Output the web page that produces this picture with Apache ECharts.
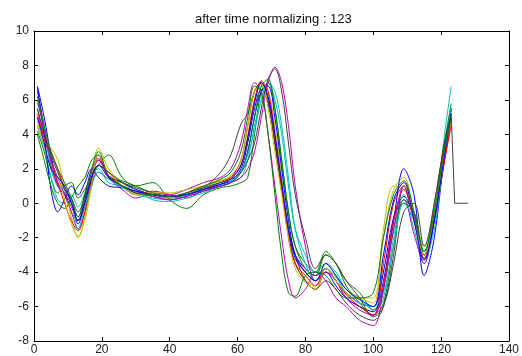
<!DOCTYPE html>
<html>
<head>
<meta charset="utf-8">
<script src="https://cdn.jsdelivr.net/npm/echarts@6/dist/echarts.min.js"></script>
<style>
  html, body { margin: 0; padding: 0; background: #fff; }
  #main { width: 522px; height: 356px; }
</style>
</head>
<body>
<div id="main"></div>
<script>
// sample positions (time index) shared by every curve
const xs = [1, 3, 5, 7, 9, 11, 13, 15, 17, 19,
  22, 26, 30, 35, 40, 45, 50, 55,
  58, 61, 63, 65, 67, 69, 71, 73, 75, 77,
  80, 83, 86, 89, 92, 96, 100, 103,
  106, 109, 112, 115, 118, 121, 123];

const s1 = [6.8, 5.0, 2.8, 1.2, 0.6, 0.2, -1.2, 0.2, 1.8, 2.5,
  1.6, 1.2, 0.8, 0.5, 0.3, 0.5, 0.8, 1.1,
  1.3, 2.0, 3.5, 5.5, 6.6, 5.8, 3.5, 0.8, -1.5, -3.0,
  -3.8, -4.2, -3.8, -4.5, -5.2, -5.8, -6.0, -4.0,
  -0.8, 0.4, -0.8, -3.0, -1.0, 2.5, 5.0];
const s2 = [4.2, 3.0, 1.5, 0.6, 1.0, 1.2, 0.3, 0.8, 1.5, 2.2,
  2.8, 1.5, 1.0, 1.2, 0.2, -0.3, 0.5, 0.9,
  1.0, 1.2, 1.5, 4.0, 6.5, 7.0, 5.5, 2.5, -0.5, -2.5,
  -3.5, -4.0, -2.8, -3.5, -4.5, -5.2, -6.2, -5.0,
  -1.5, 0.0, -0.5, -2.8, -0.5, 3.0, 5.5];
const s3 = [5.5, 4.0, 3.0, 2.0, 0.8, -0.5, -1.0, -0.2, 1.2, 2.2,
  1.8, 1.0, 0.5, 0.7, 0.5, 0.3, 0.8, 1.2,
  1.5, 2.5, 4.5, 6.5, 7.0, 6.0, 3.5, 1.0, -1.5, -3.0,
  -4.5, -5.0, -4.0, -4.5, -5.5, -6.0, -6.5, -3.5,
  0.0, 1.0, -1.0, -3.2, -1.0, 2.5, 4.5];
const s4 = [4.5, 3.2, 1.5, 0.2, 0.0, 0.5, -0.2, 0.6, 1.5, 2.0,
  1.2, 1.0, 0.8, 0.2, 0.1, 0.3, 0.6, 1.0,
  1.2, 1.5, 2.5, 4.5, 6.0, 7.0, 6.0, 4.0, 1.0, -1.5,
  -3.0, -4.0, -3.5, -4.0, -5.0, -5.5, -6.2, -5.5,
  -2.0, 0.5, -1.5, -3.5, -1.0, 4.0, 6.8];
const s5 = [5.0, 3.8, 2.5, 1.5, 0.5, -0.5, -1.5, -0.5, 1.0, 2.8,
  1.5, 0.8, 0.3, 0.6, 0.5, 0.8, 1.2, 1.5,
  2.0, 3.5, 5.5, 7.0, 6.5, 4.0, 1.0, -2.0, -4.5, -5.5,
  -5.0, -4.0, -4.5, -5.5, -6.0, -6.8, -7.1, -5.0,
  -1.0, 0.2, -1.8, -3.5, -0.5, 3.5, 5.2];
const s6 = [4.8, 3.5, 3.2, 2.5, 1.0, -0.8, -2.0, -0.8, 1.5, 3.2,
  2.0, 1.2, 0.6, 0.4, 0.3, 0.6, 1.0, 1.3,
  1.5, 2.2, 4.0, 6.0, 6.8, 6.5, 4.5, 1.5, -1.5, -3.5,
  -4.5, -4.8, -3.5, -4.2, -5.0, -5.5, -5.8, -2.0,
  0.8, 1.5, -0.5, -2.5, -0.5, 3.0, 5.0];
const s7 = [6.5, 4.5, 2.2, 1.0, 0.5, -0.2, -1.0, 0.2, 1.2, 1.8,
  1.4, 1.2, 0.9, 0.6, 0.4, 0.5, 0.9, 1.8,
  2.8, 4.6, 5.2, 6.5, 7.0, 6.0, 3.5, 0.8, -1.8, -3.5,
  -4.5, -5.0, -4.5, -5.0, -5.8, -6.5, -6.8, -6.0,
  -3.0, 1.0, -1.0, -3.0, 0.0, 3.5, 5.0];
const s8 = [6.7, 4.0, 0.8, -0.5, 0.2, 1.0, 0.5, 1.2, 2.0, 1.5,
  1.0, 0.9, 0.7, 0.4, 0.2, 0.4, 0.7, 1.0,
  1.2, 1.8, 3.0, 5.0, 6.5, 6.8, 5.0, 2.0, -1.0, -3.0,
  -4.0, -4.5, -4.0, -4.8, -5.5, -6.0, -6.3, -4.5,
  -1.0, 2.0, 0.5, -4.2, -2.0, 3.0, 5.5];
const s9 = [4.0, 2.5, 1.0, 0.0, -0.3, 0.3, 1.0, 1.5, 2.5, 2.8,
  1.5, 1.3, 1.0, 0.6, 0.4, 0.5, 0.8, 1.0,
  1.2, 1.8, 3.0, 5.0, 6.8, 7.2, 5.5, 2.5, -0.5, -2.5,
  -3.8, -4.2, -3.0, -3.5, -4.8, -5.8, -6.5, -5.8,
  -2.5, 0.2, -0.5, -3.0, -0.8, 3.5, 5.8];
const s10 = [5.2, 3.8, 2.5, 1.2, 0.0, -1.0, -1.6, -0.5, 1.5, 2.5,
  1.6, 1.0, 0.6, 0.5, 0.4, 0.6, 1.0, 1.3,
  1.5, 2.2, 3.8, 6.0, 7.1, 6.5, 4.0, 1.0, -2.0, -3.5,
  -4.2, -4.8, -3.8, -4.5, -5.3, -6.0, -6.5, -4.8,
  -1.0, 0.8, -1.0, -3.2, -1.0, 2.5, 4.8];
const s11 = [5.8, 4.5, 2.0, 1.0, 0.8, 0.2, -1.5, -0.2, 1.0, 1.8,
  1.4, 0.9, 0.5, 0.3, 0.2, 0.5, 0.9, 1.2,
  1.3, 1.8, 2.8, 4.2, 6.0, 7.0, 6.5, 4.5, 1.5, -1.5,
  -3.5, -4.5, -3.8, -4.3, -5.2, -5.8, -6.0, -5.2,
  -2.5, 0.0, -1.0, -3.3, -1.5, 3.0, 5.5];
const s12 = [6.0, 4.2, 2.5, 1.0, 0.5, 0.0, -0.8, 0.5, 2.0, 2.6,
  1.5, 1.0, 0.6, 0.4, 0.2, 0.4, 0.7, 1.0,
  1.2, 1.5, 2.0, 3.0, 5.0, 7.0, 7.9, 7.0, 4.5, 1.0,
  -2.5, -4.5, -4.0, -4.5, -5.5, -6.2, -6.5, -5.0,
  -1.5, 1.0, -0.8, -3.0, -1.0, 3.2, 5.0];
const s13 = [4.5, 3.3, 2.0, 1.5, 0.2, -1.2, -1.9, -1.0, 1.0, 2.8,
  1.8, 1.0, 0.5, 0.6, 0.6, 0.8, 1.0, 1.3,
  1.6, 2.5, 4.5, 6.5, 6.9, 5.5, 3.0, 0.5, -2.0, -3.8,
  -4.6, -5.0, -3.8, -4.5, -5.2, -5.5, -5.5, -1.5,
  1.0, 1.0, -1.0, -3.0, -0.5, 3.0, 4.8];
const s14 = [5.5, 4.0, 2.8, 1.8, 0.8, 0.3, -0.5, 0.4, 1.5, 2.2,
  1.8, 1.2, 0.8, 0.5, 0.4, 0.6, 0.9, 1.2,
  1.4, 1.8, 2.5, 3.5, 5.5, 7.2, 7.8, 6.5, 3.5, 0.5,
  -2.0, -3.8, -3.0, -3.5, -4.5, -5.5, -6.6, -6.0,
  -3.5, -0.5, 0.0, -2.5, 0.0, 3.5, 5.2];
const s15 = [5.0, 3.5, 2.0, 1.5, 1.0, 0.0, -1.0, 0.0, 1.5, 2.2,
  1.5, 1.0, 0.7, 0.5, 0.4, 0.5, 0.8, 1.1,
  1.4, 2.2, 3.8, 5.8, 7.0, 6.2, 4.0, 1.2, -1.5, -3.2,
  -4.0, -4.5, -3.5, -4.2, -5.0, -5.6, -6.0, -3.0,
  0.2, 1.2, -1.0, -3.3, -1.0, 2.8, 5.2];
const s16 = [6.2, 4.5, 3.0, 2.0, 1.2, 0.3, -0.8, 0.5, 2.0, 3.0,
  1.6, 1.0, 0.6, 0.5, 0.4, 0.6, 1.0, 1.4,
  1.8, 3.0, 5.0, 6.8, 6.5, 4.0, 0.5, -3.0, -5.2, -5.4,
  -4.2, -4.0, -4.2, -5.0, -5.5, -5.5, -5.2, -2.0,
  0.5, 1.3, -0.5, -2.8, -0.5, 3.2, 5.0];

// one curve is padded with zeros after the last sample
const tailX = [123, 124, 128];
const tailY = [5.0, 0, 0];

const xTicks = [0, 20, 40, 60, 80, 100, 120, 140];
const yTicks = [-8, -6, -4, -2, 0, 2, 4, 6, 8, 10];

const curves = [s1, s2, s3, s4, s5, s6, s7, s8, s9, s10, s11, s12, s13, s14, s15, s16];
// matlab default colour order
const colors = ['#0000ff', '#008000', '#ff0000', '#00bfbf', '#bf00bf', '#bfbf00', '#404040'];

const chart = echarts.init(document.getElementById('main'));

const series = curves.map((c, i) => ({
  name: 'trial ' + (i + 1),
  type: 'line',
  data: xs.map((x, j) => [x, c[j]]),
  smooth: 0.35,
  symbol: 'none',
  lineStyle: { width: 1, color: colors[i % colors.length] }
}));
series.push({
  name: 'pad',
  type: 'line',
  data: tailX.map((x, j) => [x, tailY[j]]),
  symbol: 'none',
  lineStyle: { width: 1, color: colors[6] }
});

const axisLabel = { color: '#222', fontFamily: 'Liberation Sans, Arial', fontSize: 12 };
const axisLine = { show: true, onZero: false, lineStyle: { color: '#000', width: 1 } };
const tick = { show: true, inside: true, length: 4, lineStyle: { color: '#000' } };

const option = {
  animation: false,
  backgroundColor: '#fff',
  title: {
    text: 'after time normalizing : 123',
    left: 190,
    top: 8,
    textStyle: { fontSize: 13, fontWeight: 'normal', color: '#111', fontFamily: 'Liberation Sans, Arial' }
  },
  grid: { left: 34, right: 12, top: 31, bottom: 15 },
  xAxis: [
    {
      type: 'value', min: xTicks[0], max: xTicks[xTicks.length - 1], interval: 20,
      axisLine, axisTick: tick, axisLabel: { ...axisLabel, margin: 3 }, splitLine: { show: false }
    },
    {
      type: 'value', position: 'top', min: 0, max: 140, interval: 20,
      axisLine, axisTick: tick, axisLabel: { show: false }, splitLine: { show: false }
    }
  ],
  yAxis: [
    {
      type: 'value', min: yTicks[0], max: yTicks[yTicks.length - 1], interval: 2,
      axisLine, axisTick: tick, axisLabel: { ...axisLabel, margin: 5 }, splitLine: { show: false }
    },
    {
      type: 'value', position: 'right', min: -8, max: 10, interval: 2,
      axisLine, axisTick: tick, axisLabel: { show: false }, splitLine: { show: false }
    }
  ],
  series
};

chart.setOption(option);
</script>
</body>
</html>
